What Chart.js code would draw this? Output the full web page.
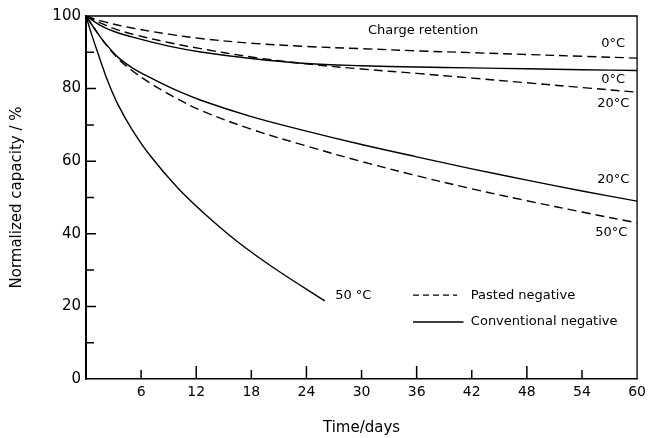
<!DOCTYPE html>
<html>
<head>
<meta charset="utf-8">
<script src="https://cdn.jsdelivr.net/npm/chart.js@4.4.1/dist/chart.umd.min.js"></script>
<style>
  html, body { margin: 0; padding: 0; background: #fff; }
  #wrap { width: 651px; height: 438px; }
</style>
</head>
<body>
<div id="wrap"><canvas id="capChart"></canvas></div>
<script>
// capacity retention of Ni-Cd negatives on open-circuit storage
var days0Pasted = [0, 2, 5, 9, 12.5, 18, 24, 30, 36, 42, 48, 54, 60];
var cap0Pasted = [100, 98.4, 96.7, 95.0, 93.8, 92.5, 91.6, 91.0, 90.4, 89.9, 89.4, 88.9, 88.4];

var days0Conv = [0, 1.5, 3, 5.2, 9, 12.5, 18, 24, 30, 36, 42, 48, 54, 60];
var cap0Conv = [100, 97.5, 95.8, 94.1, 91.7, 90.1, 88.3, 86.9, 86.3, 85.95, 85.7, 85.45, 85.2, 85.0];

var days20Pasted = [0, 1.5, 3, 5.2, 9, 12.5, 18, 24, 30, 36, 42, 48, 54, 60];
var cap20Pasted = [100, 98.2, 96.6, 94.9, 92.7, 91.0, 88.7, 86.8, 85.4, 84.2, 82.9, 81.6, 80.3, 79.0];

var days20Conv = [0, 1, 2, 3.5, 5, 7, 9.5, 12.5, 18, 24, 30, 36, 42, 48, 54, 60];
var cap20Conv = [100, 96.2, 92.8, 88.6, 85.8, 83.0, 79.9, 76.8, 72.3, 68.3, 64.6, 61.2, 57.9, 54.8, 51.8, 49.0];

var days50Pasted = [0, 1, 2, 3.5, 5, 7, 9.5, 12.5, 18, 24, 30, 36, 42, 48, 54, 60];
var cap50Pasted = [100, 96.3, 92.7, 88.2, 85.0, 81.5, 77.8, 74.0, 68.8, 64.2, 59.9, 56.0, 52.4, 49.1, 46.0, 43.0];

var days50Conv = [0, 0.6, 1.2, 2.3, 3.5, 5, 7, 10, 13, 16.5, 20.5, 26];
var cap50Conv = [100, 95.0, 90.5, 82.5, 75.5, 68.8, 61.5, 52.6, 45.3, 37.8, 30.5, 21.5];

var xTicks = [6, 12, 18, 24, 30, 36, 42, 48, 54, 60];
var yTicks = [0, 20, 40, 60, 80, 100];

// curve labels, placed in data units
var curveNotes = [
  { text: 'Charge retention', x: 36.7, y: 95.9 },
  { text: '0°C', x: 57.4, y: 92.3 },
  { text: '0°C', x: 57.4, y: 82.4 },
  { text: '20°C', x: 57.4, y: 75.8 },
  { text: '20°C', x: 57.4, y: 54.8 },
  { text: '50°C', x: 57.2, y: 40.2 },
  { text: '50 °C', x: 29.1, y: 22.9 }
];
var legendItems = [
  { text: 'Pasted negative', dashed: true, y: 23.1 },
  { text: 'Conventional negative', dashed: false, y: 15.7 }
];

var FONT = '"DejaVu Sans", sans-serif';
var DASH = [9, 5];

function pts(xs, ys) {
  return xs.map(function (x, i) { return { x: x, y: ys[i] }; });
}

function curve(label, xs, ys, dashed) {
  return {
    label: label,
    data: pts(xs, ys),
    borderColor: '#000',
    borderWidth: 1.4,
    borderDash: dashed ? DASH : [],
    pointRadius: 0,
    fill: false,
    tension: 0.35
  };
}

// inward ticks, box frame, curve notes and legend
var decorations = {
  id: 'decorations',
  afterDraw: function (chart) {
    var ctx = chart.ctx, a = chart.chartArea;
    var xs = chart.scales.x, ys = chart.scales.y;
    ctx.save();
    ctx.strokeStyle = '#000';
    ctx.lineWidth = 1.3;
    ctx.beginPath();
    ctx.moveTo(a.left, a.top);
    ctx.lineTo(a.right, a.top);
    ctx.lineTo(a.right, a.bottom);
    ctx.stroke();

    ctx.lineWidth = 1.5;
    ctx.beginPath();
    for (var d = 6; d < 60; d += 6) {
      var px = xs.getPixelForValue(d);
      var len = (d % 12 === 0) ? 13 : 9;
      ctx.moveTo(px, a.bottom);
      ctx.lineTo(px, a.bottom - len);
    }
    for (var v = 10; v < 100; v += 10) {
      var py = ys.getPixelForValue(v);
      var l = (v % 20 === 0) ? 10 : 8;
      ctx.moveTo(a.left, py);
      ctx.lineTo(a.left + l, py);
    }
    ctx.stroke();

    ctx.fillStyle = '#000';
    ctx.font = '13px ' + FONT;
    ctx.textAlign = 'center';
    ctx.textBaseline = 'middle';
    curveNotes.forEach(function (n) {
      ctx.fillText(n.text, xs.getPixelForValue(n.x), ys.getPixelForValue(n.y));
    });

    ctx.textAlign = 'left';
    legendItems.forEach(function (it) {
      var py = ys.getPixelForValue(it.y);
      var x0 = xs.getPixelForValue(35.6), x1 = xs.getPixelForValue(it.dashed ? 40.4 : 41.1);
      ctx.lineWidth = 1.4;
      ctx.setLineDash(it.dashed ? [6, 4] : []);
      ctx.beginPath();
      ctx.moveTo(x0, py);
      ctx.lineTo(x1, py);
      ctx.stroke();
      ctx.setLineDash([]);
      ctx.fillText(it.text, xs.getPixelForValue(41.9), py);
    });
    ctx.restore();
  }
};

new Chart(document.getElementById('capChart'), {
  type: 'line',
  data: {
    datasets: [
      curve('Pasted 0°C', days0Pasted, cap0Pasted, true),
      curve('Conventional 0°C', days0Conv, cap0Conv, false),
      curve('Pasted 20°C', days20Pasted, cap20Pasted, true),
      curve('Conventional 20°C', days20Conv, cap20Conv, false),
      curve('Pasted 50°C', days50Pasted, cap50Pasted, true),
      curve('Conventional 50°C', days50Conv, cap50Conv, false)
    ]
  },
  options: {
    responsive: true,
    maintainAspectRatio: false,
    animation: false,
    layout: { padding: { top: 16, right: 6, left: 0, bottom: 0 } },
    plugins: { legend: { display: false }, tooltip: { enabled: false } },
    scales: {
      x: {
        type: 'linear',
        min: 0,
        max: 60,
        afterBuildTicks: function (s) { s.ticks = xTicks.map(function (v) { return { value: v }; }); },
        afterFit: function (s) { s.height = 59; },
        grid: { display: false, drawTicks: false },
        border: { display: true, color: '#000', width: 1.6 },
        ticks: { color: '#000', font: { family: FONT, size: 14 }, padding: 5, maxRotation: 0 },
        title: { display: true, text: 'Time/days', color: '#000', font: { family: FONT, size: 15 }, padding: { top: 0, bottom: 1 } }
      },
      y: {
        min: 0,
        max: 100,
        afterBuildTicks: function (s) { s.ticks = yTicks.map(function (v) { return { value: v }; }); },
        afterFit: function (s) { s.width = 86; },
        grid: { display: false, drawTicks: false },
        border: { display: true, color: '#000', width: 2 },
        ticks: { color: '#000', font: { family: FONT, size: 15 }, padding: 5 },
        title: { display: true, text: 'Normalized capacity / %', color: '#000', font: { family: FONT, size: 15 }, padding: { top: 8, bottom: 0 } }
      }
    }
  },
  plugins: [decorations]
});
</script>
</body>
</html>
